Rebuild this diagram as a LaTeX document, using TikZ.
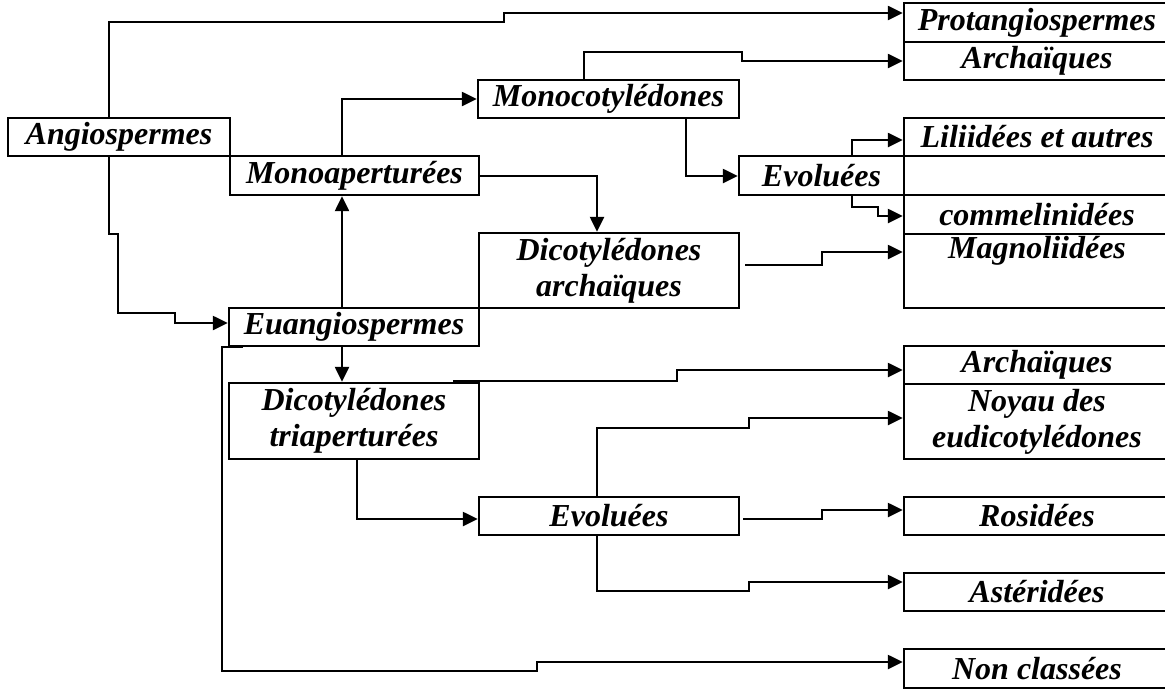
\documentclass[tikz,border=0pt]{standalone}
\usepackage{fontspec}
\setmainfont{Liberation Serif}
\usetikzlibrary{arrows.meta}
\begin{document}
\begin{tikzpicture}[x=1pt,y=-1pt,
  box/.style={draw, line width=2.4pt, inner sep=0pt, align=center,
    font=\bfseries\itshape\fontsize{32}{36}\selectfont},
  cell/.style={box, minimum width=266},
  link/.style={line width=2.4pt, line join=miter, -{Triangle[length=15pt,width=14pt]}}]
\useasboundingbox (0,0) rectangle (1165,691);
\fill[white] (0,0) rectangle (1165,691);
\clip (0,0) rectangle (1165,691);

% classification boxes
\node[box, minimum width=222, minimum height=38] (angio)   at (119,137)   {Angiospermes};
\node[box, minimum width=249, minimum height=39] (monoap)  at (354.5,175.5) {Monoaperturées};
\node[box, minimum width=261, minimum height=38] (monocot) at (608.5,99)  {Monocotylédones};
\node[box, minimum width=165, minimum height=39] (evolm)   at (821.5,175.5) {Evoluées};
\node[box, minimum width=260, minimum height=75] (dicarch) at (609,270.5) {Dicotylédones\\archaïques};
\node[box, minimum width=250, minimum height=38] (euang)   at (354,327)   {Euangiospermes};
\node[box, minimum width=250, minimum height=76] (dictri)  at (354,421)   {Dicotylédones\\triaperturées};
\node[box, minimum width=260, minimum height=38] (evold)   at (609,516)   {Evoluées};

% right-hand column of groups
\node[cell, minimum height=39] (proto)  at (1037,22.5)  {Protangiospermes};
\node[cell, minimum height=38] (archm)  at (1037,61)    {Archaïques};
\node[cell, minimum height=38] (lilii)  at (1037,137)   {Liliidées et autres};
\node[cell, minimum height=39] (rowgap) at (1037,175.5) {};
\node[cell, minimum height=39] (commel) at (1037,214.5) {commelinidées};
\node[cell, minimum height=74] (magno)  at (1037,271)   {Magnoliidées\\\strut};
\node[cell, minimum height=38] (archd)  at (1037,365)   {Archaïques};
\node[cell, minimum height=75] (noyau)  at (1037,421.5) {Noyau des\\eudicotylédones};
\node[cell, minimum height=38] (rosid)  at (1037,516)   {Rosidées};
\node[cell, minimum height=38] (aster)  at (1037,592)   {Astéridées};
\node[cell, minimum height=39] (nonc)   at (1037,668.5) {Non classées};

% free starting points of some connectors
\coordinate (magsrc)  at (745,265);
\coordinate (archsrc) at (453,381);
\coordinate (rossrc)  at (743,519);
\coordinate (nonsrc)  at (243,347);

% connectors
\draw[link] (angio.north -| 109,0) |- (504,22) |- (proto.west |- 0,13);
\draw[link] (angio.south -| 109,0) |- (118,234) |- (175,313) |- (euang.west |- 0,323);
\draw[link] (monoap.north -| 342,0) |- (monocot.west);
\draw[link] (euang.north -| 342,0) -- (monoap.south -| 342,0);
\draw[link] (euang.south -| 342,0) -- (dictri.north -| 342,0);
\draw[link] (monoap.east |- 0,176) -| (dicarch.north -| 597,0);
\draw[link] (monocot.north -| 584,0) |- (742,52) |- (archm.west);
\draw[link] (monocot.south -| 686,0) |- (evolm.west |- 0,176);
\draw[link] (evolm.north -| 852,0) |- (lilii.west |- 0,140);
\draw[link] (evolm.south -| 852,0) |- (878,207) |- (commel.west |- 0,216);
\draw[link] (magsrc) -| (822,252) -- (magno.west |- 0,252);
\draw[link] (archsrc) -| (677,370) -- (archd.west |- 0,370);
\draw[link] (evold.north -| 597,0) |- (749,428) |- (noyau.west |- 0,418);
\draw[link] (rossrc) -| (822,510) -- (rosid.west |- 0,510);
\draw[link] (evold.south -| 597,0) |- (749,591) |- (aster.west |- 0,582);
\draw[link] (dictri.south -| 357,0) |- (evold.west |- 0,519);
\draw[link] (nonsrc) -| (222,671) -| (537,662) -- (nonc.west |- 0,662);
\end{tikzpicture}
\end{document}
